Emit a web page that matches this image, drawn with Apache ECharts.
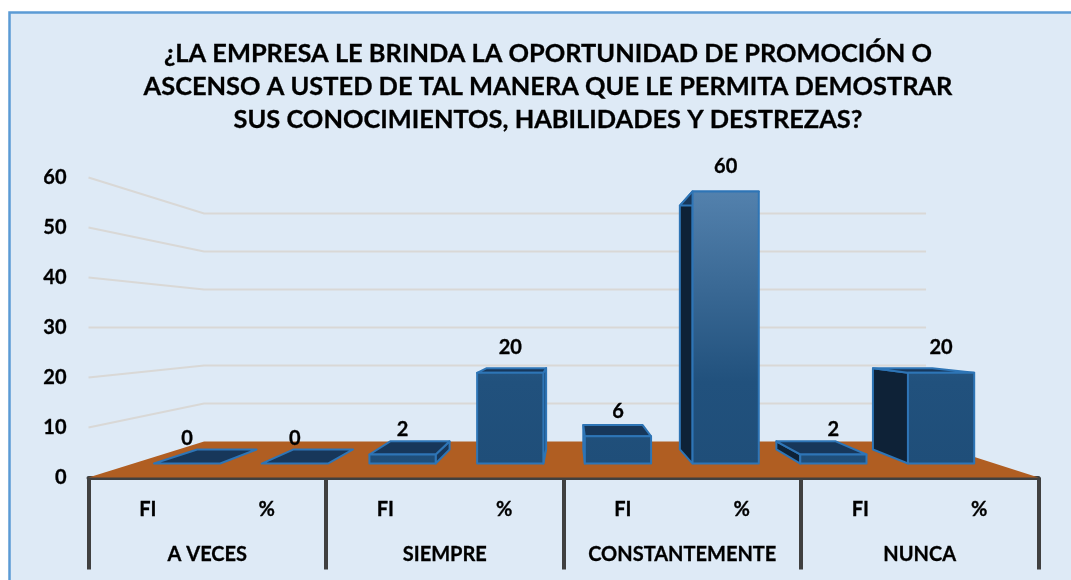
<!DOCTYPE html>
<html>
<head>
<meta charset="utf-8">
<title>Promoción o ascenso</title>
<style>
  html, body { margin: 0; padding: 0; background: #fff; }
  #main { width: 1071px; height: 580px; }
</style>
<script src="https://cdn.jsdelivr.net/npm/echarts@6/dist/echarts.min.js"></script>
</head>
<body>
<div id="main"></div>
<script>
const titleLines = [
  '¿LA EMPRESA LE BRINDA LA OPORTUNIDAD DE PROMOCIÓN O',
  'ASCENSO A USTED DE TAL MANERA QUE LE PERMITA DEMOSTRAR',
  'SUS CONOCIMIENTOS, HABILIDADES Y DESTREZAS?'
]
const groups = ['A VECES', 'SIEMPRE', 'CONSTANTEMENTE', 'NUNCA']
const categories = ['FI', '%', 'FI', '%', 'FI', '%', 'FI', '%']
const values = [0, 0, 2, 20, 6, 60, 2, 20]
const wallTicks = [10, 20, 30, 40, 50, 60]

const FONT = 'Lato, "Open Sans", sans-serif'
const LABEL_SIZE = 20

// fake 3d: the axes live on the front plane, everything else is scaled towards a vanishing point
const VP = { x: 570, y: 327.5 }
const WALL = 0.76
const BAR_FRONT = 0.907
const BAR_BACK = 0.813
const BAR_WIDTH = 0.615

function project (p, s) {
  return [VP.x + (p[0] - VP.x) * s, VP.y + (p[1] - VP.y) * s]
}

function renderWall (params, api) {
  const cs = params.coordSys
  const y = api.coord([0, api.value(0)])[1]
  const left = [cs.x, y]
  const right = [cs.x + cs.width, y]
  return {
    type: 'polyline',
    silent: true,
    shape: { points: [left, project(left, WALL), project(right, WALL)] },
    style: { fill: null, stroke: '#d9d8d6', lineWidth: 2 }
  }
}

function renderFloor (params, api) {
  const cs = params.coordSys
  const y = api.coord([0, 0])[1]
  const left = [cs.x, y]
  const right = [cs.x + cs.width, y]
  return {
    type: 'polygon',
    silent: true,
    shape: { points: [left, right, project(right, WALL), project(left, WALL)] },
    style: { fill: '#b05e22' }
  }
}

function renderBar (params, api) {
  const i = api.value(0)
  const v = api.value(1)
  const base = api.coord([i, 0])
  const top = api.coord([i, v])
  const half = api.size([1, 0])[0] * BAR_WIDTH / 2
  const corner = (x, y, s) => project([base[0] + x * half, y], s)

  const fl = corner(-1, top[1], BAR_FRONT)
  const fr = corner(1, top[1], BAR_FRONT)
  const br = corner(1, top[1], BAR_BACK)
  const bl = corner(-1, top[1], BAR_BACK)
  const flb = corner(-1, base[1], BAR_FRONT)
  const frb = corner(1, base[1], BAR_FRONT)
  const brb = corner(1, base[1], BAR_BACK)
  const blb = corner(-1, base[1], BAR_BACK)

  const edge = { stroke: '#2e75b6', lineWidth: 2, lineJoin: 'round' }
  const children = []
  const face = (points, fill) => children.push({
    type: 'polygon', silent: true, shape: { points }, style: Object.assign({ fill }, edge)
  })

  // only the side facing the vanishing point can be seen
  if (v > 0) {
    if (fl[0] > VP.x) face([bl, fl, flb, blb], '#0e2237')
    if (fr[0] < VP.x) face([fr, br, brb, frb], '#17375a')
  }
  face([fl, fr, br, bl], '#17375a')
  if (v > 0) {
    const y60 = project(api.coord([i, 60]), BAR_FRONT)[1]
    const y0 = project(base, BAR_FRONT)[1]
    face([fl, fr, frb, flb], {
      type: 'linear', x: 0, y: y60, x2: 0, y2: y0, global: true,
      colorStops: [
        { offset: 0, color: '#5381ad' },
        { offset: 0.7, color: '#21517d' },
        { offset: 1, color: '#1f4e79' }
      ]
    })
  }
  children.push({
    type: 'text',
    silent: true,
    style: {
      x: (fl[0] + fr[0]) / 2,
      y: fl[1] - 25,
      text: String(v),
      fill: '#000',
      stroke: '#000',
      lineWidth: 0.3,
      font: '700 ' + LABEL_SIZE + 'px ' + FONT,
      align: 'center',
      verticalAlign: 'middle'
    }
  })
  return { type: 'group', children }
}

const axisText = {
  interval: 0,
  fontFamily: FONT,
  fontWeight: 700,
  fontSize: LABEL_SIZE,
  color: '#000',
  textBorderColor: '#000',
  textBorderWidth: 0.3
}

const chart = echarts.init(document.getElementById('main'), null, { renderer: 'canvas' })
chart.setOption({
  animation: false,
  backgroundColor: '#fff',
  title: {
    text: titleLines.join('\n'),
    left: 543,
    top: 32,
    textAlign: 'center',
    textStyle: {
      fontFamily: FONT,
      fontWeight: 700,
      fontSize: 25.4,
      lineHeight: 33,
      color: '#000',
      textBorderColor: '#000',
      textBorderWidth: 0.3
    }
  },
  graphic: [{
    type: 'rect',
    z: -10,
    silent: true,
    shape: { x: 9.5, y: 12.5, width: 1100, height: 600 },
    style: { fill: '#deeaf6', stroke: '#5b9bd5', lineWidth: 2.5 }
  }],
  grid: { left: 88.5, right: 32.5, top: 177.5, bottom: 102.5 },
  xAxis: [
    {
      type: 'category',
      data: categories,
      axisLine: { lineStyle: { color: '#404040', width: 4 } },
      axisTick: { show: false },
      axisLabel: Object.assign({ margin: 22 }, axisText)
    },
    {
      type: 'category',
      position: 'bottom',
      data: groups,
      axisLine: { show: false },
      axisTick: { show: true, length: 92, lineStyle: { color: '#404040', width: 4 } },
      axisLabel: Object.assign({ margin: 67 }, axisText)
    }
  ],
  yAxis: {
    type: 'value',
    min: 0,
    max: 60,
    interval: 10,
    axisLine: { show: false },
    axisTick: { show: false },
    splitLine: { show: false },
    axisLabel: Object.assign({ margin: 22 }, axisText)
  },
  series: [
    {
      type: 'custom',
      name: 'wall',
      z: 1,
      silent: true,
      clip: false,
      renderItem: renderWall,
      data: wallTicks.map(t => [t])
    },
    {
      type: 'custom',
      name: 'floor',
      z: 2,
      silent: true,
      clip: false,
      renderItem: renderFloor,
      data: [[0]]
    },
    {
      type: 'custom',
      name: 'valores',
      z: 3,
      silent: true,
      clip: false,
      renderItem: renderBar,
      data: values.map((v, i) => [i, v])
    }
  ]
})
</script>
</body>
</html>
